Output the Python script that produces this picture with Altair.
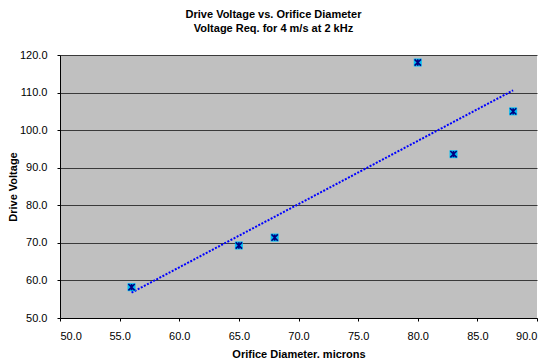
import altair as alt
import pandas as pd

diameter = [56.0, 65.0, 68.0, 80.0, 83.0, 88.0]
voltage = [58.2, 69.3, 71.4, 118.0, 93.6, 105.0]

df = pd.DataFrame({"d": diameter, "v": voltage})

FONT = "Liberation Sans"

xenc = alt.X("d:Q", scale=alt.Scale(domain=[50, 90], nice=False, zero=False),
             axis=alt.Axis(title="Orifice Diameter, microns", values=[50, 55, 60, 65, 70, 75, 80, 85, 90],
                           format=".1f", grid=False, tickSize=3, labelPadding=9,
                           titlePadding=7, domainColor="black", tickColor="black",
                           labelColor="black", labelFont=FONT, labelFontSize=11,
                           titleFont=FONT, titleFontSize=11, titleFontWeight="bold",
                           titleColor="black"))
yenc = alt.Y("v:Q", scale=alt.Scale(domain=[50, 120], nice=False, zero=False),
             axis=alt.Axis(title="Drive Voltage", values=[50, 60, 70, 80, 90, 100, 110, 120],
                           format=".1f", grid=True, gridColor="#3a3a3a", gridWidth=1,
                           tickSize=3, labelPadding=10, titlePadding=1,
                           domainColor="black", tickColor="black", labelColor="black",
                           labelFont=FONT, labelFontSize=11, titleFont=FONT,
                           titleFontSize=11, titleFontWeight="bold", titleColor="black"))

base = alt.Chart(df)

trend = base.transform_regression("d", "v").mark_line(
    color="#0000FF", strokeWidth=2, strokeDash=[2, 1.5]
).encode(x=xenc, y=yenc)

sq = base.mark_point(shape="square", filled=True, color="#00BFF5", size=64, opacity=1).encode(x=xenc, y=yenc)
star = base.mark_point(shape="M-1,-1L1,1M1,-1L-1,1M0,-1L0,1", filled=False, color="#000080",
                       strokeWidth=1.6, size=40, opacity=1).encode(x=xenc, y=yenc)

chart = alt.layer(trend, sq, star).properties(
    width=477, height=263,
    title=alt.TitleParams(
        text=["Drive Voltage vs. Orifice Diameter", "Voltage Req. for 4 m/s at 2 kHz"],
        font=FONT, fontSize=11, fontWeight="bold", color="black", lineHeight=14,
        offset=15, dx=-25, anchor="middle"),
    autosize=alt.AutoSizeParams(type="none"),
    padding={"left": 52, "top": 47, "right": 2, "bottom": 40},
    background="white",
).configure_view(fill="#C0C0C0", stroke=None)

chart.save("out.html", embed_options={"renderer": "svg", "actions": False})
